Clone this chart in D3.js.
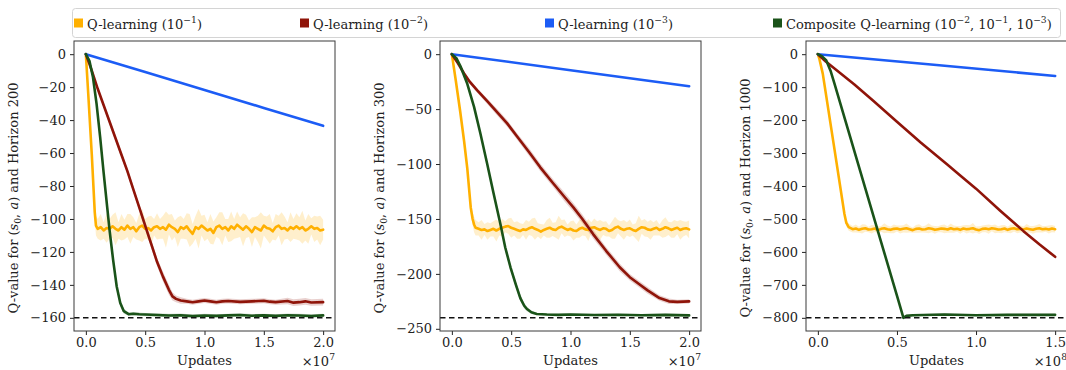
<!DOCTYPE html>
<html>
<head>
  <script src="https://d3js.org/d3.v7.min.js"></script>
  <style type="text/css">
    body { margin: 0; background: #fff; }
    svg text { font-family: "DejaVu Serif", "Liberation Serif", "Times New Roman", serif; }
  </style>
</head>
<body>
  <svg id="chart" width="1066" height="370"></svg>
  <script type="text/javascript">
    // ---- data (x in units of 1e7 / 1e8 updates) ----
    // each point: [x, mean, half-width of shaded band]
    const seriesNames = ["Q-learning", "Q-learning", "Q-learning", "Composite Q-learning"];
    const seriesExps = [[-1], [-2], [-3], [-2, -1, -3]];
    const seriesColors = ["#ffb000", "#8f1409", "#1c5cf5", "#1a5319"];

    const horizons = [200, 300, 1000];
    const optimum = [-160, -240, -800];
    const xTickLabels = [[0, 0.5, 1, 1.5, 2], [0, 0.5, 1, 1.5, 2], [0, 0.5, 1, 1.5]];
    const xExponent = [7, 7, 8];
    const yTickLabels = [
      [0, -20, -40, -60, -80, -100, -120, -140, -160],
      [0, -50, -100, -150, -200, -250],
      [0, -100, -200, -300, -400, -500, -600, -700, -800]
    ];
    const xMax = [2, 2, 1.5];

    // ---- horizon 200 ----
    const p1Blue = [[0, 0, 0], [0.5, -10.8, 0], [1, -21.7, 0], [1.5, -32.6, 0], [2, -43.5, 0]];
    const p1OrangeHead = [[0, 0, 0], [0.02, -24, 1], [0.05, -61, 2], [0.075, -96, 4], [0.085, -104, 6]];
    const p1OrangeStart = 0.1, p1OrangeStep = 0.025;
    const p1OrangeY = [
      -106, -105, -107, -105.5, -106, -104.5, -106, -107, -105, -106.5,
      -104, -106, -105, -107.5, -105, -104, -106, -105.5, -107, -105,
      -104.5, -106, -105, -106.5, -103.5, -105, -106, -108, -105, -106,
      -104.5, -107, -109, -105, -106, -104, -105.5, -107, -106, -108.5,
      -105, -104, -106, -105, -107, -104.5, -106, -103.5, -105, -106.5,
      -104.5, -106, -108, -105, -106, -107, -104, -105.5, -106, -107.5,
      -105, -104, -106, -105.5, -107, -105, -106, -104.5, -106, -105,
      -107, -106, -104.5, -106, -105.5, -107, -106.5
    ];
    const p1OrangeSd = [
      6, 8, 5, 9, 6, 7, 10, 5, 8, 6,
      7, 9, 6, 5, 8, 10, 6, 7, 9, 5,
      8, 6, 7, 11, 6, 8, 5, 9, 7, 6,
      8, 10, 6, 7, 12, 6, 8, 5, 9, 7,
      6, 8, 10, 5, 7, 9, 6, 8, 6, 10,
      7, 5, 9, 6, 8, 11, 6, 7, 9, 5,
      8, 6, 10, 7, 5, 9, 6, 8, 7, 10,
      6, 9, 5, 8, 7, 9, 6
    ];
    const p1Red = [
      [0, 0, 0], [0.05, -10, 1], [0.1, -21, 1.5], [0.15, -31, 1.5], [0.2, -41, 2], [0.25, -51, 2],
      [0.3, -61, 2], [0.35, -71, 2], [0.4, -82, 2], [0.45, -93, 2], [0.5, -104, 2.5], [0.55, -115, 2.5],
      [0.6, -126, 2.5], [0.65, -135, 3], [0.7, -143, 3], [0.73, -147, 2.5], [0.76, -148.5, 2], [0.8, -149.5, 2],
      [0.85, -150, 1.5], [0.9, -150.5, 1.5], [0.95, -150, 1.5], [1, -149.5, 1.5], [1.05, -150, 1.5],
      [1.1, -150.5, 1.5], [1.15, -150, 1.5], [1.2, -149.8, 1.5], [1.3, -150.3, 1.5], [1.4, -150, 1.5],
      [1.5, -149.6, 1.5], [1.55, -150.2, 1.5], [1.6, -150.5, 1.5], [1.7, -149.8, 2], [1.75, -150.8, 2],
      [1.8, -150.5, 2], [1.85, -150, 2], [1.9, -150.7, 2], [2, -150.5, 2]
    ];
    const p1Green = [
      [0, 0, 0], [0.03, -4, 0.5], [0.06, -14, 1], [0.09, -30, 1.5], [0.12, -50, 2], [0.15, -72, 2],
      [0.18, -93, 2], [0.2, -107, 2], [0.23, -125, 2], [0.26, -141, 2], [0.29, -151, 2], [0.32, -156, 1.5],
      [0.36, -157.8, 1], [0.4, -157.5, 1], [0.45, -157.8, 1], [0.5, -158, 1], [0.6, -158.3, 1],
      [0.7, -158.6, 1], [0.8, -158.4, 1], [0.9, -159, 1], [1, -158.6, 1], [1.1, -158.8, 1],
      [1.2, -158.5, 1], [1.3, -158.3, 1], [1.4, -158.7, 1], [1.5, -158.5, 1], [1.6, -158.8, 1],
      [1.7, -158.4, 1], [1.8, -158.6, 1], [1.9, -158.9, 1], [2, -158.5, 1]
    ];

    // ---- horizon 300 ----
    const p2Blue = [[0, 0, 0], [1, -14.6, 0], [2, -29.2, 0]];
    const p2OrangeHead = [
      [0, 0, 0], [0.033, -24, 1], [0.07, -52, 2], [0.103, -79, 3], [0.13, -104, 4],
      [0.159, -139.5, 5], [0.175, -150, 6], [0.187, -155, 7]
    ];
    const p2OrangeStart = 0.2, p2OrangeStep = 0.025;
    const p2OrangeY = [
      -158, -159, -160, -159.5, -161, -160, -159, -160.5, -159, -158,
      -157, -156.5, -158, -159, -160, -161, -159.5, -160, -158.5, -157.5,
      -159, -160, -161.5, -160, -159, -158, -159.5, -160, -158, -157,
      -158.5, -160, -159, -160.5, -161, -159, -158, -159.5, -160, -158,
      -157.5, -159, -160, -158.5, -159, -161, -160, -158, -157, -159,
      -160, -159, -158.5, -160, -161, -159, -157.5, -158, -159.5, -160,
      -159, -158, -160, -159, -157.5, -158.5, -160, -159, -158, -160,
      -159, -158.5, -159.5
    ];
    const p2OrangeSd = [
      7, 6, 9, 5, 8, 6, 7, 10, 6, 8,
      5, 7, 9, 6, 8, 7, 5, 9, 6, 8,
      10, 6, 7, 5, 8, 9, 6, 7, 11, 6,
      8, 5, 7, 9, 6, 8, 7, 6, 10, 5,
      8, 7, 9, 6, 7, 5, 8, 10, 6, 7,
      9, 6, 8, 5, 7, 12, 6, 8, 7, 9,
      6, 7, 5, 8, 9, 6, 7, 8, 6, 9,
      7, 6, 8
    ];
    const p2Red = [
      [0, 0, 0], [0.05, -8, 1], [0.103, -17.6, 1.5], [0.15, -25, 2], [0.214, -33, 2], [0.3, -43, 2.5],
      [0.4, -55, 3], [0.466, -63, 3], [0.55, -75, 3], [0.65, -89, 3.5], [0.745, -103, 3.5], [0.85, -117, 3.5],
      [0.95, -130, 4], [1.024, -139.5, 4], [1.1, -150, 4], [1.192, -164, 4], [1.3, -179, 3.5],
      [1.415, -194, 3.5], [1.5, -203, 3], [1.58, -209.5, 3], [1.65, -215, 3], [1.75, -222, 2.5],
      [1.83, -225, 2.5], [1.9, -225.5, 2], [2, -225, 2]
    ];
    const p2Green = [
      [0, 0, 0], [0.04, -4, 0.5], [0.075, -11.6, 1], [0.13, -27, 1.5], [0.187, -48, 2], [0.24, -72, 2],
      [0.298, -100, 2.5], [0.35, -126, 2.5], [0.41, -155, 3], [0.45, -176, 3], [0.494, -194, 3],
      [0.54, -210, 3], [0.577, -222, 3], [0.61, -229, 2.5], [0.633, -232, 2], [0.67, -235, 1.5],
      [0.716, -236.5, 1], [0.8, -237, 1], [0.9, -237.3, 1], [1, -237, 1], [1.2, -237.5, 1],
      [1.4, -237.2, 1], [1.6, -237.6, 1], [1.8, -237.3, 1], [2, -237.8, 1]
    ];

    // ---- horizon 1000 ----
    const p3Blue = [[0, 0, 0], [0.75, -33, 0], [1.5, -66, 0]];
    const p3OrangeHead = [
      [0, 0, 0], [0.01, -15, 2], [0.031, -59, 4], [0.1, -273, 6], [0.168, -485, 8],
      [0.18, -512, 10], [0.195, -525, 11]
    ];
    const p3OrangeStart = 0.22, p3OrangeStep = 0.02;
    const p3OrangeY = [
      -531, -529, -533, -530, -528, -532, -531, -529, -534, -530,
      -528, -531, -533, -530, -529, -532, -530, -528, -531, -534,
      -530, -529, -532, -531, -528, -530, -533, -531, -529, -530,
      -532, -528, -531, -530, -533, -529, -531, -530, -528, -532,
      -534, -530, -529, -531, -528, -530, -532, -531, -529, -533,
      -530, -528, -531, -530, -532, -529, -531, -533, -530, -528,
      -531, -530, -532, -529, -531
    ];
    const p3OrangeSd = [
      10, 12, 9, 14, 11, 8, 13, 10, 12, 9,
      15, 11, 10, 13, 9, 12, 11, 14, 10, 8,
      12, 13, 9, 11, 15, 10, 12, 9, 11, 13,
      10, 14, 11, 9, 12, 10, 13, 11, 16, 9,
      12, 10, 11, 14, 9, 13, 10, 12, 11, 9,
      13, 10, 12, 11, 9, 14, 10, 12, 11, 13,
      10, 9, 12, 11, 10
    ];
    const p3Red = [
      [0, 0, 0], [0.05, -22, 1], [0.231, -92, 2], [0.35, -141, 2], [0.5, -205, 2], [0.65, -268, 2],
      [0.818, -335, 2], [0.9, -368, 2], [1, -408, 2], [1.153, -475, 2], [1.3, -537, 2],
      [1.4, -577, 2], [1.5, -615, 2]
    ];
    const p3Green = [
      [0, 0, 0], [0.025, -6, 1], [0.052, -18, 2], [0.08, -50, 2], [0.105, -89, 3], [0.2, -244, 3],
      [0.3, -407, 3], [0.4, -570, 3], [0.5, -733, 3], [0.541, -800, 3], [0.56, -794, 3],
      [0.6, -792, 3], [0.8, -790, 3], [1, -792, 3], [1.2, -791, 3], [1.5, -791, 3]
    ];

    // join a hand-read head with the plateau values read at a regular spacing
    function withTail(head, start, step, ys, sds) {
      return head.concat(ys.map((y, i) => [start + i * step, y, sds[i]]));
    }

    const panelSeries = [
      [withTail(p1OrangeHead, p1OrangeStart, p1OrangeStep, p1OrangeY, p1OrangeSd), p1Red, p1Blue, p1Green],
      [withTail(p2OrangeHead, p2OrangeStart, p2OrangeStep, p2OrangeY, p2OrangeSd), p2Red, p2Blue, p2Green],
      [withTail(p3OrangeHead, p3OrangeStart, p3OrangeStep, p3OrangeY, p3OrangeSd), p3Red, p3Blue, p3Green]
    ];

    // ---- layout ----
    const panelLeft = [74, 440, 806];
    const panelTop = 41, panelW = 261, panelH = 290;
    const fontSize = 13;
    const supSize = 9.2;

    const svg = d3.select("#chart");
    const fmtX = d3.format(".1f");
    const fmtY = d3.format("d");

    // write text pieces, some raised or lowered, returning to the baseline afterwards
    function scriptText(t, parts) {
      let shift = 0;
      parts.forEach(pt => {
        const s = t.append("tspan").text(pt.text);
        const want = pt.sup ? -6 : pt.sub ? 3 : 0;
        if (want !== shift) s.attr("dy", want - shift);
        if (pt.sup || pt.sub) s.attr("font-size", supSize);
        if (pt.italic) s.attr("font-style", "italic");
        shift = want;
      });
    }

    panelSeries.forEach((series, p) => {
      const left = panelLeft[p];
      const xPad = xMax[p] * 0.05;
      const yMin = optimum[p], yPad = -yMin * 0.05;
      const x = d3.scaleLinear().domain([-xPad, xMax[p] + xPad]).range([left, left + panelW]);
      const y = d3.scaleLinear().domain([yMin - yPad, yPad]).range([panelTop + panelH, panelTop]);

      const clipId = "clip" + p;
      svg.append("clipPath").attr("id", clipId)
        .append("rect").attr("x", left).attr("y", panelTop).attr("width", panelW).attr("height", panelH);

      const plot = svg.append("g").attr("clip-path", `url(#${clipId})`);

      const area = d3.area().x(d => x(d[0])).y0(d => y(d[1] - d[2])).y1(d => y(d[1] + d[2]));
      const line = d3.line().x(d => x(d[0])).y(d => y(d[1]));

      series.forEach((s, i) => {
        plot.append("path").attr("d", area(s))
          .attr("fill", seriesColors[i]).attr("fill-opacity", 0.2);
      });
      series.forEach((s, i) => {
        plot.append("path").attr("d", line(s))
          .attr("fill", "none").attr("stroke", seriesColors[i])
          .attr("stroke-width", 2.6).attr("stroke-linejoin", "round").attr("stroke-linecap", "round");
      });

      // optimum reference
      plot.append("line")
        .attr("x1", left).attr("x2", left + panelW)
        .attr("y1", y(optimum[p])).attr("y2", y(optimum[p]))
        .attr("stroke", "#111").attr("stroke-width", 1.4).attr("stroke-dasharray", "5.5,3.5");

      // axes
      const yAxis = svg.append("g").attr("transform", `translate(${left},0)`)
        .call(d3.axisLeft(y).tickValues(yTickLabels[p]).tickFormat(fmtY).tickSize(4).tickPadding(4));
      const xAxis = svg.append("g").attr("transform", `translate(0,${panelTop + panelH})`)
        .call(d3.axisBottom(x).tickValues(xTickLabels[p]).tickFormat(fmtX).tickSize(4).tickPadding(3));
      [yAxis, xAxis].forEach(a => {
        a.attr("font-family", null).attr("font-size", null);
        a.select(".domain").remove();
        a.selectAll("text").attr("font-size", fontSize).attr("fill", "#222");
        a.selectAll("line").attr("stroke", "#222");
      });

      svg.append("rect")
        .attr("x", left).attr("y", panelTop).attr("width", panelW).attr("height", panelH)
        .attr("fill", "none").attr("stroke", "#3a3a3a").attr("stroke-width", 1);

      // x label and offset
      svg.append("text")
        .attr("x", left + panelW / 2).attr("y", 365)
        .attr("text-anchor", "middle").attr("font-size", fontSize).attr("fill", "#222")
        .text("Updates");
      const off = svg.append("text")
        .attr("x", left + panelW).attr("y", 366)
        .attr("text-anchor", "end").attr("font-size", fontSize).attr("fill", "#222");
      scriptText(off, [{ text: "×10" }, { text: String(xExponent[p]), sup: true }]);

      // y label
      const yl = svg.append("text")
        .attr("transform", `translate(${left - 56},${panelTop + panelH / 2 + 12}) rotate(-90)`)
        .attr("text-anchor", "middle").attr("font-size", fontSize).attr("fill", "#222");
      scriptText(yl, [
        { text: "Q-value for (" }, { text: "s", italic: true }, { text: "0", sub: true },
        { text: ", " }, { text: "a", italic: true }, { text: ") and Horizon " + horizons[p] }
      ]);
    });

    // ---- legend ----
    const legendSquareX = [74, 300, 545, 773];
    const legend = svg.append("g");
    legend.append("rect")
      .attr("x", 72.5).attr("y", 8.5).attr("width", 988).attr("height", 29).attr("rx", 3)
      .attr("fill", "#fff").attr("stroke", "#d4d4d4");
    seriesNames.forEach((name, i) => {
      const gx = legendSquareX[i];
      legend.append("rect").attr("x", gx).attr("y", 18.5).attr("width", 9).attr("height", 9)
        .attr("fill", seriesColors[i]);
      const t = legend.append("text").attr("x", gx + 13).attr("y", 29)
        .attr("font-size", fontSize).attr("fill", "#222");
      const parts = [{ text: name + " (" }];
      seriesExps[i].forEach((e, k) => {
        parts.push({ text: (k > 0 ? ", " : "") + "10" });
        parts.push({ text: "−" + Math.abs(e), sup: true });
      });
      parts.push({ text: ")" });
      scriptText(t, parts);
    });
  </script>
</body>
</html>
